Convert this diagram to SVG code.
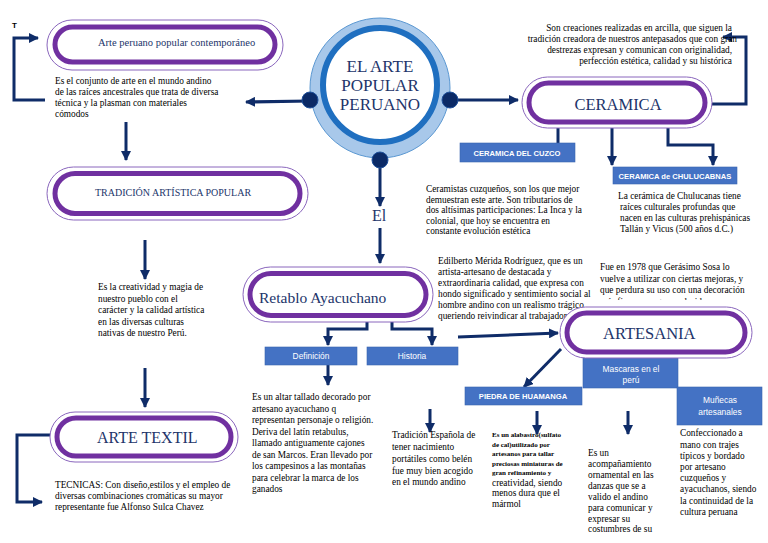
<svg xmlns="http://www.w3.org/2000/svg" width="768" height="543" viewBox="0 0 768 543">
<style>
.t{font-family:"Liberation Serif","Times New Roman",serif;font-size:9.3px;fill:#000}
.ts{font-family:"Liberation Serif","Times New Roman",serif;font-size:7px;font-weight:bold;fill:#000}
.pt{font-family:"Liberation Serif","Times New Roman",serif;fill:#22346a}
.bt{font-family:"Liberation Sans",Arial,sans-serif;font-size:7.6px;font-weight:bold;fill:#fff;text-anchor:middle}
.bn{font-family:"Liberation Sans",Arial,sans-serif;font-size:8.4px;fill:#fff;text-anchor:middle}
.po{fill:#fff;stroke:#8a66bd;stroke-width:1}
.pi{fill:#fff;stroke:#7030a0;stroke-width:5}
.bx{fill:#4472c4;stroke:#3a64b0;stroke-width:0.6}
.c{fill:none;stroke:#0f2c68;stroke-width:3}
.ca{fill:none;stroke:#0f2c68;stroke-width:3;marker-end:url(#ah)}
.kn{fill:#0b2a66;stroke:#1d4f9a;stroke-width:1}
</style>
<defs>
<marker id="ah" markerUnits="userSpaceOnUse" markerWidth="10" markerHeight="10" viewBox="0 0 10 10" refX="9" refY="5" orient="auto">
<path d="M0,0 L10,5 L0,10 z" fill="#0f2c68"/>
</marker>
<clipPath id="clipE"><rect x="430" y="250" width="180" height="75.5"/></clipPath>
<clipPath id="clipF"><rect x="590" y="255" width="170" height="45"/></clipPath>
</defs>
<rect width="768" height="543" fill="#fff"/>

<g id="connectors">
<path class="ca" d="M310,101 L246,102"/>
<path class="ca" d="M450,100 L518,100"/>
<path class="ca" d="M380,160 L380,206"/>
<path class="ca" d="M380,228 L380,263"/>
<path class="ca" d="M45,100 L14,100 L14,38 L38,38"/>
<path class="ca" d="M126,122 L126,160"/>
<path class="ca" d="M145,240 L145,279"/>
<path class="ca" d="M145,368 L145,407"/>
<path class="ca" d="M50,435 L17,435 L17,502 L42,502"/>
<path class="ca" d="M712,104 L746,104 L746,37 L723,37"/>
<path class="c" d="M558,128 L558,143"/>
<path class="ca" d="M612,128 L612,165"/>
<path class="ca" d="M668,128 L668,145 L713,145 L713,165"/>
<path class="ca" d="M367,322 L367,329 L328,329 L328,345"/>
<path class="ca" d="M392,322 L392,329 L432,329 L432,345"/>
<path class="ca" d="M328,365 L328,385"/>
<path class="ca" d="M430,409 L430,432"/>
<path class="ca" d="M458,337 L558,333"/>
<path class="ca" d="M561,349 L524,387"/>
<path class="ca" d="M537,411 L537,434"/>
<path class="ca" d="M628,411 L628,434"/>
</g>

<g id="center">
<circle cx="380" cy="88" r="70" fill="#a8c8ea" stroke="#5b98d2" stroke-width="1"/>
<circle cx="380" cy="85" r="57" fill="#fff" stroke="#1f6fc0" stroke-width="6"/>
<text class="pt" x="380" y="72" font-size="17" text-anchor="middle">EL ARTE</text>
<text class="pt" x="380" y="91" font-size="17" text-anchor="middle">POPULAR</text>
<text class="pt" x="380" y="110" font-size="17" text-anchor="middle">PERUANO</text>
<circle class="kn" cx="310" cy="100" r="8"/>
<circle class="kn" cx="450" cy="100" r="8"/>
<circle class="kn" cx="380" cy="160" r="8"/>
</g>

<g id="el-label"><text class="pt" x="379" y="221" font-size="16" text-anchor="middle" fill="#1f3a7a">El</text></g>
<g id="t-label"><text x="12" y="28" font-family="Liberation Sans,Arial,sans-serif" font-size="8" font-weight="bold" fill="#000">T</text></g>

<g id="pill-contemporaneo">
<rect class="po" x="47" y="20" width="236" height="50" rx="25"/>
<rect class="pi" x="55" y="27" width="220" height="35" rx="17.5"/>
<text class="pt" x="98" y="46" font-size="10.5">Arte peruano popular contemporáneo</text>
</g>
<g id="text-contemporaneo">
<text class="t" x="55" y="84">Es el conjunto de arte  en el mundo andino</text>
<text class="t" x="55" y="95">de las raíces ancestrales que trata de diversa</text>
<text class="t" x="55" y="106">técnica y la plasman con materiales</text>
<text class="t" x="55" y="117">cómodos</text>
</g>

<g id="pill-tradicion">
<rect class="po" x="47" y="167" width="261" height="53" rx="26.5"/>
<rect class="pi" x="55" y="173.5" width="245" height="40" rx="20"/>
<text class="pt" x="95" y="196" font-size="10">TRADICIÓN ARTÍSTICA POPULAR</text>
</g>
<g id="text-tradicion">
<text class="t" x="98" y="290">Es la creatividad y magia de</text>
<text class="t" x="98" y="301.5">nuestro pueblo con el</text>
<text class="t" x="98" y="313">carácter y la calidad artística</text>
<text class="t" x="98" y="324.5">en las diversas culturas</text>
<text class="t" x="98" y="336">nativas de nuestro Perú.</text>
</g>

<g id="pill-textil">
<rect class="po" x="50" y="412" width="188" height="50" rx="25"/>
<rect class="pi" x="57" y="418" width="174" height="38" rx="19"/>
<text class="pt" x="97" y="443" font-size="16">ARTE TEXTIL</text>
</g>
<g id="text-textil">
<text class="t" x="55" y="488">TECNICAS: Con diseño,estilos y el empleo de</text>
<text class="t" x="55" y="499">diversas combinaciones cromáticas su mayor</text>
<text class="t" x="55" y="510">representante fue Alfonso Sulca Chavez</text>
</g>

<g id="text-ceramica">
<text class="t" x="732" y="31" text-anchor="end">Son creaciones realizadas en arcilla, que siguen la</text>
<text class="t" x="737" y="42" text-anchor="end">tradición creadora de nuestros antepasados que con gran</text>
<text class="t" x="732" y="53" text-anchor="end">destrezas expresan y comunican con originalidad,</text>
<text class="t" x="732" y="64" text-anchor="end">perfección estética, calidad y su histórica</text>
</g>
<g id="pill-ceramica">
<rect class="po" x="522" y="77" width="190" height="51" rx="25.5"/>
<rect class="pi" x="529" y="83" width="176" height="39" rx="19.5"/>
<text class="pt" x="618" y="110" font-size="16.5" text-anchor="middle">CERAMICA</text>
</g>

<g id="box-cuzco">
<rect class="bx" x="460" y="143" width="115" height="19"/>
<text class="bt" x="517" y="156">CERAMICA DEL CUZCO</text>
</g>
<g id="text-cuzco">
<text class="t" x="426" y="192">Ceramistas cuzqueños, son los que mejor</text>
<text class="t" x="426" y="202.5">demuestran este arte. Son tributarios de</text>
<text class="t" x="426" y="213">dos altísimas participaciones: La Inca y la</text>
<text class="t" x="426" y="223.5">colonial, que hoy se encuentra en</text>
<text class="t" x="426" y="234">constante evolución estética</text>
</g>

<g id="box-chulucanas">
<rect class="bx" x="613" y="167" width="124" height="17"/>
<text class="bt" x="675" y="179">CERAMICA de CHULUCABNAS</text>
</g>
<g id="text-chulucanas">
<text class="t" x="618" y="199"> La cerámica de Chulucanas tiene</text>
<text class="t" x="620" y="210">raíces culturales profundas que</text>
<text class="t" x="620" y="221">nacen en las culturas prehispánicas</text>
<text class="t" x="620" y="232">Tallán y Vicus (500 años d.C.)</text>
</g>

<g id="pill-retablo">
<rect class="po" x="243" y="267" width="190" height="55" rx="27.5"/>
<rect class="pi" x="250" y="273.5" width="176" height="42" rx="21"/>
<text class="pt" x="259" y="303" font-size="15.5">Retablo Ayacuchano</text>
</g>

<g id="box-definicion">
<rect class="bx" x="265" y="347" width="92" height="18"/>
<text class="bn" x="311" y="359">Definición</text>
</g>
<g id="text-definicion">
<text class="t" x="252" y="400">Es un altar tallado decorado por</text>
<text class="t" x="252" y="411.5">artesano ayacuchano q</text>
<text class="t" x="252" y="423">representan personaje o religión.</text>
<text class="t" x="252" y="434.5">Deriva del latín retabulus,</text>
<text class="t" x="252" y="446">llamado antiguamente cajones</text>
<text class="t" x="252" y="457.5">de san Marcos. Eran llevado por</text>
<text class="t" x="252" y="469">los campesinos a las montañas</text>
<text class="t" x="252" y="480.5">para celebrar la marca de los</text>
<text class="t" x="252" y="492">ganados</text>
</g>

<g id="box-historia">
<rect class="bx" x="367" y="347" width="91" height="18"/>
<text class="bn" x="412" y="359">Historia</text>
</g>
<g id="text-historia">
<text class="t" x="392" y="438"> Tradición Española de</text>
<text class="t" x="392" y="450">tener nacimiento</text>
<text class="t" x="392" y="462">portátiles como belén</text>
<text class="t" x="392" y="474">fue muy bien acogido</text>
<text class="t" x="392" y="485">en el mundo andino</text>
</g>

<g id="text-edilberto">
<g clip-path="url(#clipE)">
<text class="t" x="438" y="264">Edilberto Mérida Rodríguez, que es un</text>
<text class="t" x="438" y="275">artista-artesano de destacada y</text>
<text class="t" x="438" y="286">extraordinaria calidad, que expresa con</text>
<text class="t" x="438" y="297">hondo significado y sentimiento social al</text>
<text class="t" x="438" y="308">hombre andino con un realismo trágico</text>
<text class="t" x="438" y="319">queriendo reivindicar al trabajador del</text>
<text class="t" x="438" y="331">campo</text>
</g>
</g>
<g id="text-gerasimo">
<g clip-path="url(#clipF)">
<text class="t" x="600" y="270">Fue en 1978 que Gerásimo Sosa lo</text>
<text class="t" x="600" y="282">vuelve a utilizar con ciertas mejoras, y</text>
<text class="t" x="600" y="293">que perdura su uso con una decoración</text>
<text class="t" x="600" y="305">más fina y con gran colorido</text>
</g>
</g>

<g id="box-mascaras">
<rect class="bx" x="583" y="354" width="95" height="34"/>
<text class="bn" x="631" y="372">Mascaras en el</text>
<text class="bn" x="631" y="383">perú</text>
</g>

<g id="pill-artesania">
<rect class="po" x="560" y="307" width="192" height="51" rx="25.5"/>
<rect class="pi" x="567" y="313" width="178" height="39" rx="19.5"/>
<text class="pt" x="603" y="339" font-size="16.5">ARTESANIA</text>
</g>

<g id="box-piedra">
<rect class="bx" x="465" y="387" width="117" height="18"/>
<text class="bt" x="523" y="399">PIEDRA DE HUAMANGA</text>
</g>
<g id="text-piedra">
<text class="ts" x="492" y="437">Es un alabastro(sulfato</text>
<text class="ts" x="492" y="446.5">de cal)utilizado por</text>
<text class="ts" x="492" y="456">artesanos para tallar</text>
<text class="ts" x="492" y="465.5">preciosas miniaturas de</text>
<text class="ts" x="492" y="475">gran refinamiento y</text>
<text class="t" x="492" y="485.5">creatividad, siendo</text>
<text class="t" x="492" y="496">menos dura que el</text>
<text class="t" x="492" y="507">mármol</text>
</g>

<g id="text-mascaras">
<text class="t" x="588" y="456">Es un</text>
<text class="t" x="588" y="466.5">acompañamiento</text>
<text class="t" x="588" y="478">ornamental en las</text>
<text class="t" x="588" y="488.5">danzas que se a</text>
<text class="t" x="588" y="499.5">valido el andino</text>
<text class="t" x="588" y="510.5">para comunicar y</text>
<text class="t" x="588" y="521.5">expresar su</text>
<text class="t" x="588" y="532">costumbres de su</text>
</g>

<g id="box-munecas">
<rect class="bx" x="677" y="387" width="85" height="38"/>
<text class="bn" x="720" y="403">Muñecas</text>
<text class="bn" x="720" y="415">artesanales</text>
</g>
<g id="text-munecas">
<text class="t" x="680" y="436"> Confeccionado a</text>
<text class="t" x="680" y="447.5">mano con trajes</text>
<text class="t" x="680" y="459">típicos y bordado</text>
<text class="t" x="680" y="470">por artesano</text>
<text class="t" x="680" y="481">cuzqueños y</text>
<text class="t" x="680" y="492">ayacuchanos, siendo</text>
<text class="t" x="680" y="503.5">la continuidad de la</text>
<text class="t" x="680" y="515">cultura peruana</text>
</g>
</svg>
